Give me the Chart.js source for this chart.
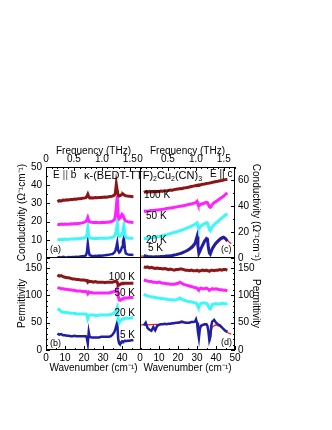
<!DOCTYPE html>
<html>
<head>
<meta charset="utf-8">
<script src="https://cdn.jsdelivr.net/npm/chart.js@4"></script>
<style>
  body { margin: 0; background: #fff; }
  #wrap { position: relative; width: 332px; height: 430px; font-family: 'Liberation Sans', Arial, sans-serif; color: #000; }
  canvas { position: absolute; left: 0; top: 0; }
  .t { position: absolute; white-space: nowrap; font-size: 10px; line-height: 12px; }
  .t sub { font-size: 7px; vertical-align: -2px; line-height: 0; }
  .bar { color: #8a8a8a; font-weight: bold; }
</style>
</head>
<body>
<div id="wrap">
  <canvas id="pa" width="332" height="430"></canvas>
  <canvas id="pb" width="332" height="430"></canvas>
  <canvas id="pc" width="332" height="430"></canvas>
  <canvas id="pd" width="332" height="430"></canvas>

  <div class="t" style="left:84px;top:169px;font-size:11px;line-height:13px">κ-(BEDT-TTF)<sub>2</sub>Cu<sub>2</sub>(CN)<sub>3</sub></div>
  <div class="t" style="left:53px;top:169px">E <span class="bar">||</span> b</div>
  <div class="t" style="left:210px;top:168px">E || c</div>

  <div class="t" style="right:197px;top:271px">100 K</div>
  <div class="t" style="right:197px;top:287px">50 K</div>
  <div class="t" style="right:197px;top:307px">20 K</div>
  <div class="t" style="right:197px;top:329px">5 K</div>

  <div class="t" style="left:144px;top:189px">100 K</div>
  <div class="t" style="left:146px;top:210px">50 K</div>
  <div class="t" style="left:146px;top:234px">20 K</div>
  <div class="t" style="left:148px;top:242px">5 K</div>

  <div class="t" style="left:50px;top:243px;font-size:9px">(a)</div>
  <div class="t" style="left:50px;top:337px;font-size:9px">(b)</div>
  <div class="t" style="left:221px;top:243px;font-size:9px">(c)</div>
  <div class="t" style="left:221px;top:336px;font-size:9px">(d)</div>
</div>

<script>
// E || b, wavenumber (cm-1)
const xB = [6,7,8,9,10,11,12,13,14,15,16,17,18,19,20,21,21.5,22,22.5,23,24,25,26,27,28,29,30,31,32,33,34,35,36,
  36.5,37,37.5,38,38.5,39,39.5,40,40.5,41,41.5,42,43,44,45,46];

const condB100 = [31.0,31.5,31.3,31.8,31.7,32.0,31.9,32.2,32.1,32.4,32.3,32.6,32.5,32.8,32.9,33.1,
  33.8,35.0,33.6,
  33.0,33.1,33.0,33.2,33.1,33.3,33.2,33.4,33.5,33.4,33.6,33.8,34.0,34.5,
  35.5,40.5,37.0,34.5,34.0,34.2,34.6,35.0,35.2,34.8,34.4,
  34.2,34.0,33.9,33.8,33.7];
const condB50 = [18.5,18.3,18.6,18.4,18.7,18.5,18.6,18.8,18.7,18.9,18.8,19.0,19.1,19.3,19.6,20.0,
  20.8,22.2,20.5,
  19.8,19.6,19.5,19.6,19.5,19.4,19.5,19.6,19.5,19.6,19.7,19.9,20.2,21.0,
  23.0,28.0,34.0,23.0,21.5,22.0,23.0,24.0,23.5,22.0,21.0,
  20.3,20.0,19.8,19.6,19.5];
const condB20 = [10.2,10.0,10.3,10.1,10.4,10.2,10.3,10.5,10.4,10.6,10.5,10.7,10.6,10.8,11.0,11.5,
  12.5,16.5,12.0,
  11.0,10.8,10.7,10.8,10.7,10.8,10.9,10.8,11.0,10.9,11.0,11.2,11.4,12.0,
  13.0,15.0,19.0,13.0,12.0,12.0,12.5,13.5,16.0,18.0,13.0,
  11.5,11.0,10.9,10.8,10.8];
const condB5 = [0.3,0.5,0.2,0.6,0.4,0.3,0.5,0.4,0.6,0.5,0.7,0.6,0.8,0.9,1.0,1.5,
  3.0,8.0,3.5,
  1.5,1.2,1.0,1.2,1.1,1.3,1.2,1.4,1.5,1.7,1.8,2.0,2.2,3.0,
  4.0,6.0,8.5,4.0,3.0,3.5,4.5,6.0,9.0,11.0,5.0,
  2.5,2.0,1.8,1.8,1.6];

const permB100 = [137,135,136,134,133,132,132,131,130,130,129,129,128,128,128,127,
  127,124,126,
  125,125,124,125,124,124,124,124,123,124,124,124,124,125,
  125,126,124,118,119,120,121,121,122,122,122,
  122,122,122,122,122];
const permB50 = [114,113,112,112,111,111,110,110,109,109,108,108,108,107,107,107,
  106,103,106,
  105,105,104,104,104,104,104,104,104,104,104,105,106,107,
  108,110,113,98,92,91,92,93,94,95,95,
  95,95,96,96,96];
const permB20 = [75,74,70,69,69,68,68,67,67,67,66,66,66,66,66,66,
  64,57,62,
  64,64,64,63,63,64,64,64,64,64,64,65,66,68,
  70,74,78,55,50,53,55,56,57,57,58,
  58,58,58,59,59];
const permB5 = [30,28,29,27,27,26,26,25,25,26,25,25,25,25,25,25,
  22,12,33,
  24,23,23,23,23,23,24,24,24,24,24,25,28,33,
  38,44,50,20,12,10,14,16,15,16,17,
  16,17,17,18,18];

// E || c
const xC = [2,3,4,5,6,7,8,9,10,11,12,13,14,15,16,17,18,19,20,21,22,23,24,25,26,27,28,29,
  29.5,30,30.5,31,31.5,32,33,34,35,35.5,36,36.5,37,37.5,38,39,40,41,42,43,44,45,46];

const condC100 = [50.5,51.0,50.6,51.2,50.8,51.0,51.3,50.9,51.2,51.5,
  51.3,51.8,51.6,52.0,52.3,52.1,52.6,52.8,53.0,53.4,
  53.3,53.8,54.0,54.3,54.6,55.0,55.3,55.6,
  55.8,56.0,55.9,56.2,56.0,
  56.4,56.8,57.0,57.3,
  57.4,57.5,57.6,57.8,57.9,
  58.2,58.5,58.8,59.0,59.4,59.6,60.0,60.3,60.5];
const condC50 = [36.0,36.2,36.0,36.4,36.5,36.6,36.8,37.0,37.2,37.3,
  37.5,37.7,38.0,38.2,38.5,38.7,39.0,39.2,39.5,39.8,
  40.0,40.3,40.6,41.0,41.3,41.6,42.0,42.4,
  42.8,43.5,41.5,40.2,40.8,
  41.2,41.8,42.3,42.8,
  42.5,41.0,39.5,39.0,40.0,
  41.0,42.5,43.5,44.5,45.5,46.5,47.5,49.0,50.0];
const condC20 = [15.0,15.2,15.0,15.4,15.5,15.8,16.0,16.3,16.6,17.0,
  17.3,17.7,18.0,18.4,18.8,19.2,19.6,20.0,20.5,21.0,
  21.5,22.0,22.6,23.2,23.8,24.5,25.2,26.0,
  26.5,27.0,24.5,22.8,23.5,
  24.5,25.5,26.5,27.2,
  27.0,24.5,22.0,21.0,22.5,
  24.0,25.5,27.0,28.0,29.5,30.5,32.0,33.0,34.0];
const condC5 = [2.0,1.5,1.2,1.0,1.0,0.8,1.0,0.9,1.0,1.1,
  1.2,1.3,1.5,1.6,1.8,2.0,2.3,2.6,3.0,3.4,
  3.8,4.5,5.2,6.0,7.0,8.0,9.5,11.5,
  14.0,16.5,9.0,3.5,5.0,
  7.0,10.0,13.0,15.0,
  14.5,8.0,4.0,3.0,5.0,
  7.0,9.5,11.5,13.0,14.5,15.5,16.0,15.0,13.0];

const permC100 = [152,151,152,150,151,150,149,150,149,149,
  148,149,148,147,148,147,146,147,147,148,
  148,147,146,146,145,146,145,145,
  145,146,145,144,145,
  145,146,145,146,
  145,145,144,145,146,
  146,145,146,146,147,146,147,147,146];
const permC50 = [128,127,126,125,125,124,124,123,124,123,
  122,122,121,121,120,120,120,121,122,124,
  122,120,119,118,117,116,115,114,
  114,113,111,110,112,
  113,112,112,113,
  112,111,109,110,111,
  112,111,112,111,110,110,109,109,108];
const permC20 = [102,100,99,98,97,97,96,95,95,94,
  94,93,93,92,92,92,91,92,93,95,
  93,91,90,89,88,88,87,86,
  86,84,80,79,83,
  85,86,86,85,
  84,80,76,75,79,
  83,84,85,84,84,85,85,84,85];
const permC5 = [45,50,40,37,35,42,36,44,46,47,
  47,48,47,48,48,49,49,50,50,51,
  52,51,50,50,50,51,51,52,
  56,50,33,22,38,
  44,46,47,47,
  44,34,18,24,44,
  52,55,50,47,45,42,38,35,33];

// 5 K fits (red)
const fitX = [0,2,4,6,8,10,12,14,16,18,20,22,24,26,28,29,29.5,30,30.5,31,31.5,32,33,34,35,
  35.5,36,36.5,37,37.5,38,40,42,44,46,48];
const fitCondC5 = [1.5,1.4,1.2,1.1,1.0,1.0,1.1,1.3,1.6,2.0,2.6,3.5,4.6,6.0,8.0,
  10.0,13.0,16.0,9.5,4.0,5.0,
  6.5,9.5,12.5,14.5,
  14.0,8.5,4.5,3.5,5.0,
  6.5,10.5,13.5,15.0,13.5,11.0];
const fitPermC5 = [46,46,46,46.5,47,47,47.5,48,48,48.5,49,49.5,50,50.5,51.5,
  52.5,54,50,36,28,38,
  42,45,46,46,
  44,38,26,20,34,
  42,46,43,38,32,29];

const temps = ['100 K', '50 K', '20 K', '5 K'];
const colors = ['#8c1616', '#ff22ff', '#3ff7f7', '#1f1fa6'];
const fitColor = '#ff1a1a';

Chart.defaults.font.family = "'Liberation Sans', Arial, sans-serif";
Chart.defaults.font.size = 10;
Chart.defaults.color = '#000';

const W = 332, H = 430;

function pts(xs, ys) {
  return xs.map((x, i) => ({x: x, y: ys[i]}));
}

function line(xs, ys, color, width) {
  return {
    data: pts(xs, ys),
    borderColor: color,
    backgroundColor: color,
    borderWidth: width,
    showLine: true,
    pointRadius: 0,
    tension: 0
  };
}

function every(n) {
  return v => (Math.abs(v % n) < 1e-6 ? String(v) : '');
}

function thz(v) {
  const r = Math.round(v * 10);
  if (r % 5 !== 0) return '';
  return r === 0 ? '0' : (r / 10).toFixed(1);
}

// black frame + inward ticks
const frameTicks = {
  id: 'frameTicks',
  afterDraw(chart) {
    const ctx = chart.ctx, a = chart.chartArea;
    ctx.save();
    ctx.strokeStyle = '#000';
    ctx.lineWidth = 1;
    ctx.strokeRect(a.left + 0.5, a.top + 0.5, a.right - a.left - 1, a.bottom - a.top - 1);
    Object.values(chart.scales).forEach(s => {
      if (!s.options.display) return;
      s.ticks.forEach(t => {
        const len = t.label === '' ? 2 : 4;
        const p = Math.round(s.getPixelForValue(t.value)) + 0.5;
        ctx.beginPath();
        if (s.position === 'left') { ctx.moveTo(a.left, p); ctx.lineTo(a.left + len, p); }
        else if (s.position === 'right') { ctx.moveTo(a.right, p); ctx.lineTo(a.right - len, p); }
        else if (s.position === 'top') { ctx.moveTo(p, a.top); ctx.lineTo(p, a.top + len); }
        else { ctx.moveTo(p, a.bottom); ctx.lineTo(p, a.bottom - len); }
        ctx.stroke();
      });
    });
    ctx.restore();
  }
};

// box = [left, top, right, bottom] of the plot area on the page
function panel(id, box, datasets, o) {
  const yW = o.ySide === 'left' ? 46 : 27;
  const topH = 27, botH = 30;
  const padding = {
    left: o.ySide === 'left' ? box[0] - yW : box[0],
    right: o.ySide === 'left' ? W - box[2] : W - box[2] - yW,
    top: o.top ? box[1] - topH : box[1],
    bottom: o.bottom ? H - box[3] - botH : H - box[3]
  };
  const yTitlePad = o.ySide === 'left' ? 16 : 0;
  const noGrid = { display: false, drawTicks: false };

  new Chart(document.getElementById(id), {
    type: 'scatter',
    data: { datasets: datasets },
    options: {
      responsive: false,
      animation: false,
      events: [],
      layout: { padding: padding },
      plugins: { legend: { display: false }, tooltip: { enabled: false } },
      scales: {
        x: {
          type: 'linear', position: 'bottom', min: 0, max: 50,
          display: !!o.bottom,
          grid: noGrid, border: { display: false },
          ticks: { stepSize: 5, autoSkip: false, maxRotation: 0, padding: 2,
                   callback: v => (v % 10 === 0 && (v < 50 || o.ySide === 'right') ? String(v) : '') },
          title: { display: true, text: 'Wavenumber (cm⁻¹)', padding: { top: 0, bottom: 6 } },
          afterFit: s => { if (o.bottom) s.height = botH; }
        },
        xTop: {
          type: 'linear', axis: 'x', position: 'top', min: 0, max: 1.7,
          display: !!o.top,
          grid: noGrid, border: { display: false },
          ticks: { stepSize: 0.1, autoSkip: false, maxRotation: 0, padding: 2, callback: thz },
          title: { display: true, text: 'Frequency (THz)', padding: { top: 5, bottom: 0 } },
          afterFit: s => { if (o.top) s.height = topH; }
        },
        y: {
          type: 'linear', position: o.ySide, min: 0, max: o.yMax,
          grid: noGrid, border: { display: false },
          ticks: { stepSize: o.yStep, autoSkip: false, includeBounds: false, padding: o.ySide === 'left' ? 4 : 3,
                   callback: every(o.yLabel) },
          title: { display: true, text: o.yTitle, padding: { top: yTitlePad, bottom: 0 } },
          afterFit: s => { s.width = yW; }
        }
      }
    },
    plugins: [frameTicks]
  });
}

const cond = 'Conductivity (Ω⁻¹cm⁻¹)';

panel('pa', [46, 167, 141, 258], [
  line(xB, condB100, colors[0], 3),
  line(xB, condB50, colors[1], 3),
  line(xB, condB20, colors[2], 3),
  line(xB, condB5, colors[3], 2.5)
], { ySide: 'left', top: true, bottom: false, yMax: 50, yStep: 5, yLabel: 10, yTitle: cond });

panel('pb', [46, 257, 141, 350], [
  line(xB, permB100, colors[0], 3),
  line(xB, permB50, colors[1], 3),
  line(xB, permB20, colors[2], 3),
  line(xB, permB5, colors[3], 2.5)
], { ySide: 'left', top: false, bottom: true, yMax: 170, yStep: 10, yLabel: 50, yTitle: 'Permittivity' });

panel('pc', [140, 167, 235, 258], [
  line(xC, condC100, colors[0], 3),
  line(xC, condC50, colors[1], 3),
  line(xC, condC20, colors[2], 3),
  line(xC, condC5, colors[3], 3),
  line(fitX, fitCondC5, fitColor, 1.3)
], { ySide: 'right', top: true, bottom: false, yMax: 70, yStep: 10, yLabel: 20, yTitle: cond });

panel('pd', [140, 257, 235, 350], [
  line(xC, permC100, colors[0], 3),
  line(xC, permC50, colors[1], 3),
  line(xC, permC20, colors[2], 3),
  line(xC, permC5, colors[3], 2.5),
  line(fitX, fitPermC5, fitColor, 1.3)
], { ySide: 'right', top: false, bottom: true, yMax: 170, yStep: 10, yLabel: 50, yTitle: 'Permittivity' });
</script>
</body>
</html>
